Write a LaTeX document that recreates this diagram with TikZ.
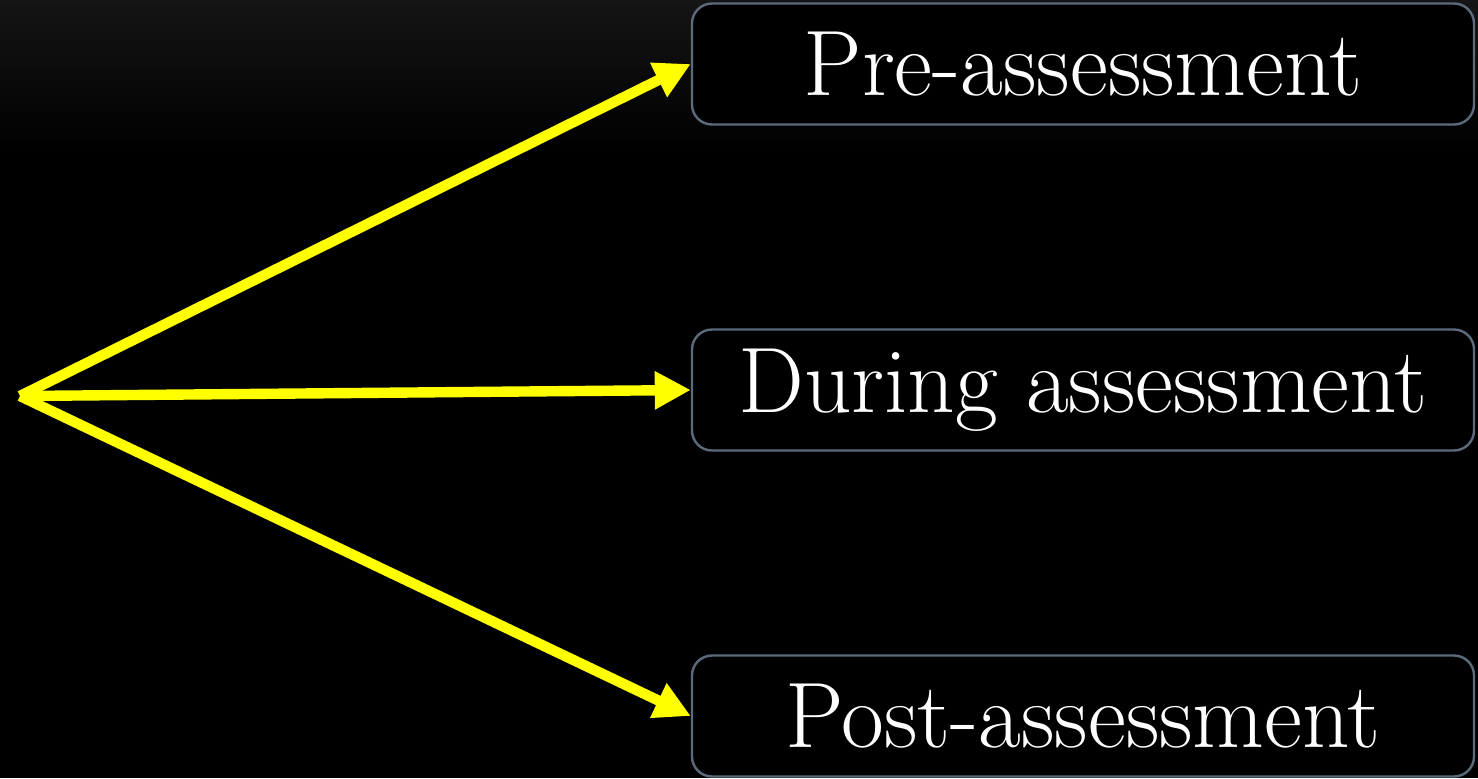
\documentclass[tikz,border=0pt]{standalone}
\usetikzlibrary{arrows.meta}
\definecolor{boxline}{HTML}{5B6B7B}
\definecolor{arrowy}{HTML}{FFFF00}
\definecolor{bgtop}{HTML}{151515}
\tikzset{
  stagebox/.style={draw=boxline, line width=1.2pt, fill=black, rounded corners=10pt,
    minimum width=391pt, minimum height=60.5pt, inner sep=0pt, text=white,
    font=\fontsize{46.5}{52}\selectfont},
  yarrow/.style={draw=arrowy, line width=5.2pt,
    -{Triangle[length=18pt,width=18pt]}, shorten >=0pt}
}
\begin{document}
\begin{tikzpicture}[x=0.5pt,y=-0.5pt]
\fill[black] (0,0) rectangle (1478,778);
\shade[top color=bgtop, bottom color=black] (0,0) rectangle (1478,150);
\useasboundingbox (0,0) rectangle (1478,778);
\node[stagebox] (pre) at (1083,64) {Pre-assessment};
\node[stagebox] (during) at (1083,390) {During assessment};
\node[stagebox] (post) at (1083,716) {Post-assessment};
\coordinate (src) at (20,396);
\draw[yarrow] (src) -- (pre.west);
\draw[yarrow] (src) -- (during.west);
\draw[yarrow] (src) -- (post.west);
\end{tikzpicture}
\end{document}
